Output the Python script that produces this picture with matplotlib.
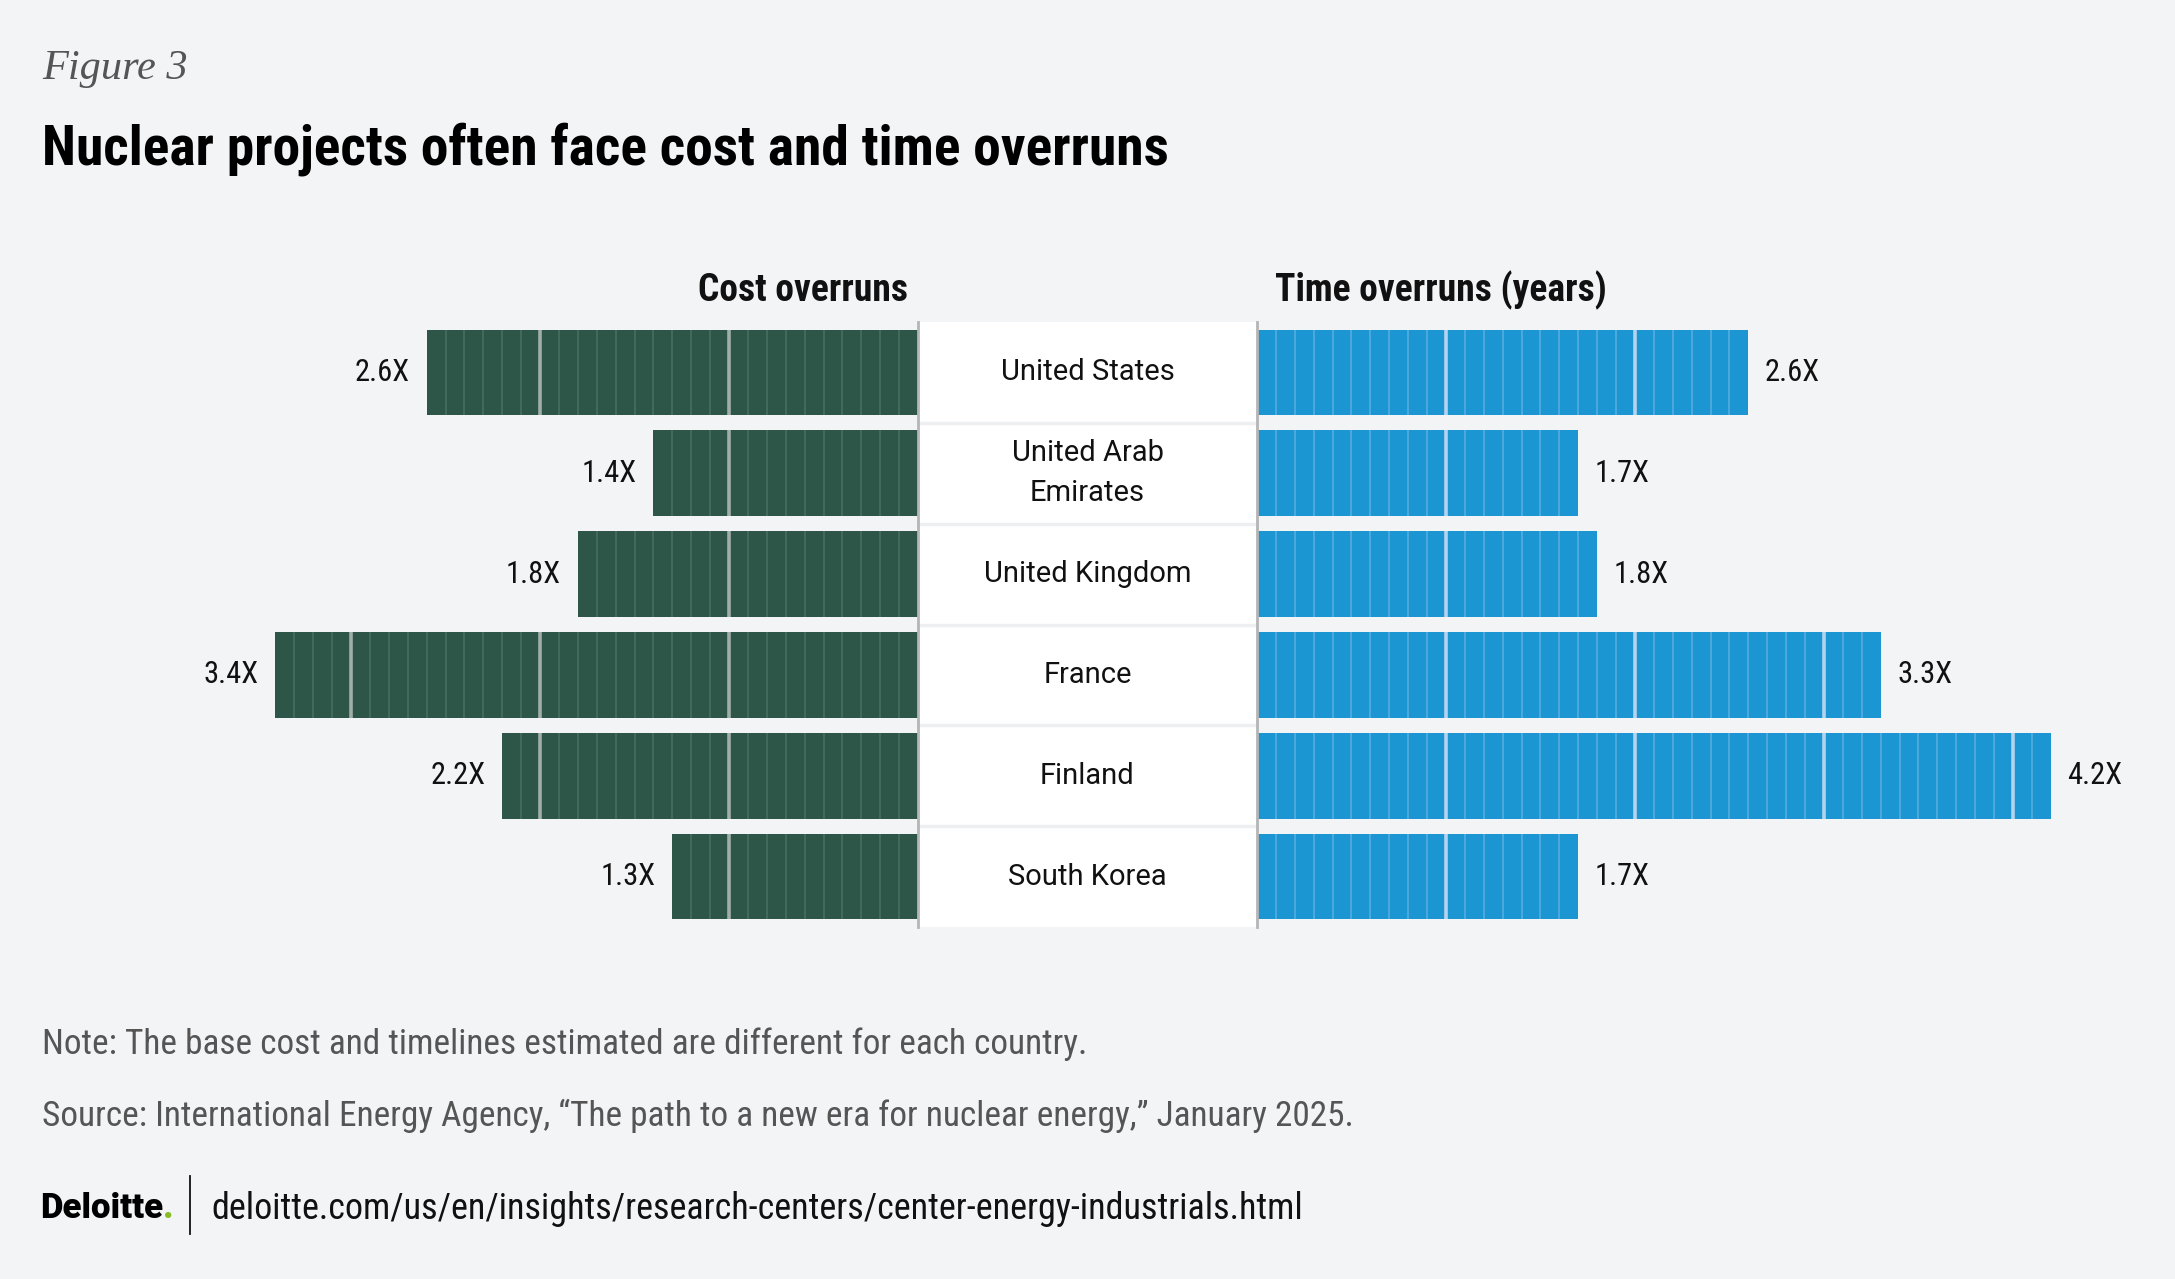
import numpy as np
import matplotlib
matplotlib.use("Agg")
from matplotlib import pyplot as plt, font_manager
from matplotlib.lines import Line2D

# data
countries = ["United States", "United Arab\nEmirates", "United Kingdom", "France", "Finland", "South Korea"]
cost_overrun = [2.6, 1.4, 1.8, 3.4, 2.2, 1.3]
time_overrun = [2.6, 1.7, 1.8, 3.3, 4.2, 1.7]
cost_labels = ["2.6X", "1.4X", "1.8X", "3.4X", "2.2X", "1.3X"]
time_labels = ["2.6X", "1.7X", "1.8X", "3.3X", "4.2X", "1.7X"]

W, H = 2175, 1279
BG = "#f3f4f6"
GREEN, GREEN_THIN, GREEN_THICK = "#2d5548", "#4b7063", "#a2aeaa"
BLUE, BLUE_THIN, BLUE_THICK = "#1b96d3", "#5aaee0", "#b4d3ee"

available = {f.name for f in font_manager.fontManager.ttflist}


def pick(*names):
    for n in names:
        if n in available:
            return n
    return "DejaVu Sans"


COND = pick("Roboto Condensed", "Liberation Sans Narrow", "Roboto")
SANS = pick("Roboto", "Inter", "Open Sans")
SERIF = pick("Liberation Serif", "DejaVu Serif")

fig = plt.figure(figsize=(W / 100, H / 100), dpi=100, facecolor=BG)


def px_axes(x0, y0, x1, y1):
    return fig.add_axes([x0 / W, 1 - y1 / H, (x1 - x0) / W, (y1 - y0) / H])


def fy(y):
    return 1 - y / H


y = np.arange(len(countries))
BAR_H = 0.85
XMAX = 4.635
TOP, BOT = 322, 927


def draw_side(ax, values, labels, color, thin, thick, sign):
    ax.barh(y, values, height=BAR_H, color=color, zorder=2)
    for yi, v, lbl in zip(y, values, labels):
        ticks = np.arange(1, int(round(v * 10))) / 10
        minor = [t for t in ticks if abs(t - round(t)) > 1e-6]
        major = [t for t in ticks if abs(t - round(t)) < 1e-6]
        ax.vlines(minor, yi - BAR_H / 2, yi + BAR_H / 2, colors=thin, lw=1.1, zorder=3)
        ax.vlines(major, yi - BAR_H / 2, yi + BAR_H / 2, colors=thick, lw=2.6, zorder=4)
        ax.annotate(lbl, (v, yi), xytext=(12 * sign, 0), textcoords="offset points",
                    ha="left" if sign > 0 else "right", va="center",
                    fontsize=22, family=COND, color="#111111")
    ax.set_ylim(len(countries) - 0.5, -0.5)
    ax.set_facecolor("none")
    for s in ax.spines.values():
        s.set_visible(False)
    ax.set_xticks([])
    ax.set_yticks([])


ax_l = px_axes(42, TOP, 918, BOT)
draw_side(ax_l, cost_overrun, cost_labels, GREEN, GREEN_THIN, GREEN_THICK, -1)
ax_l.set_xlim(XMAX, 0)

ax_r = px_axes(1257, TOP, 2133, BOT)
draw_side(ax_r, time_overrun, time_labels, BLUE, BLUE_THIN, BLUE_THICK, 1)
ax_r.set_xlim(0, XMAX)

# centre column with country names
ax_m = px_axes(918, TOP, 1257, BOT)
ax_m.set_facecolor("white")
ax_m.set_xlim(0, 1)
ax_m.set_ylim(len(countries) - 0.5, -0.5)
for b in y[:-1] + 0.5:
    ax_m.axhline(b, color="#eeeff1", lw=2.5)
for yi, name in zip(y, countries):
    ax_m.text(0.5, yi, name, ha="center", va="center", fontsize=21, family=SANS,
              color="#111111", linespacing=1.55)
for side in ["top", "bottom"]:
    ax_m.spines[side].set_visible(False)
for side in ["left", "right"]:
    ax_m.spines[side].set_color("#b5b5b5")
    ax_m.spines[side].set_linewidth(2)
ax_m.set_xticks([])
ax_m.set_yticks([])

# headers
fig.text(908 / W, fy(301), "Cost overruns", ha="right", va="baseline",
         fontsize=27, fontweight="bold", family=COND, color="#111111")
fig.text(1275 / W, fy(301), "Time overruns (years)", ha="left", va="baseline",
         fontsize=27, fontweight="bold", family=COND, color="#111111")

# titles
fig.text(42 / W, fy(79), "Figure 3", ha="left", va="baseline", fontsize=30.5,
         style="italic", family=SERIF, color="#555555")
fig.text(42 / W, fy(164), "Nuclear projects often face cost and time overruns",
         ha="left", va="baseline", fontsize=40, fontweight="black", family=COND,
         color="#000000")

# notes
fig.text(42 / W, fy(1054), "Note: The base cost and timelines estimated are different for each country.",
         ha="left", va="baseline", fontsize=25.4, family=COND, color="#555555")
fig.text(42 / W, fy(1126),
         "Source: International Energy Agency, \u201cThe path to a new era for nuclear energy,\u201d January 2025.",
         ha="left", va="baseline", fontsize=25.4, family=COND, color="#555555")

# footer
logo = fig.text(40 / W, fy(1218), "Deloitte", ha="left", va="baseline", fontsize=25,
                fontweight="black", family=SANS, color="#000000")
ax_dummy = fig.add_axes([0, 0, 1, 1], facecolor="none")
ax_dummy.set_axis_off()
ax_dummy.annotate(".", xy=(1, 0), xycoords=logo, ha="left", va="bottom",
                  fontsize=25, fontweight="black", family=SANS, color="#86bc25")
fig.add_artist(Line2D([190 / W, 190 / W], [fy(1176), fy(1234)], color="#111111", lw=1.3))
fig.text(211 / W, fy(1219), "deloitte.com/us/en/insights/research-centers/center-energy-industrials.html",
         ha="left", va="baseline", fontsize=26, family=COND, color="#111111")

fig.savefig("out.png", dpi=100, facecolor=BG)
